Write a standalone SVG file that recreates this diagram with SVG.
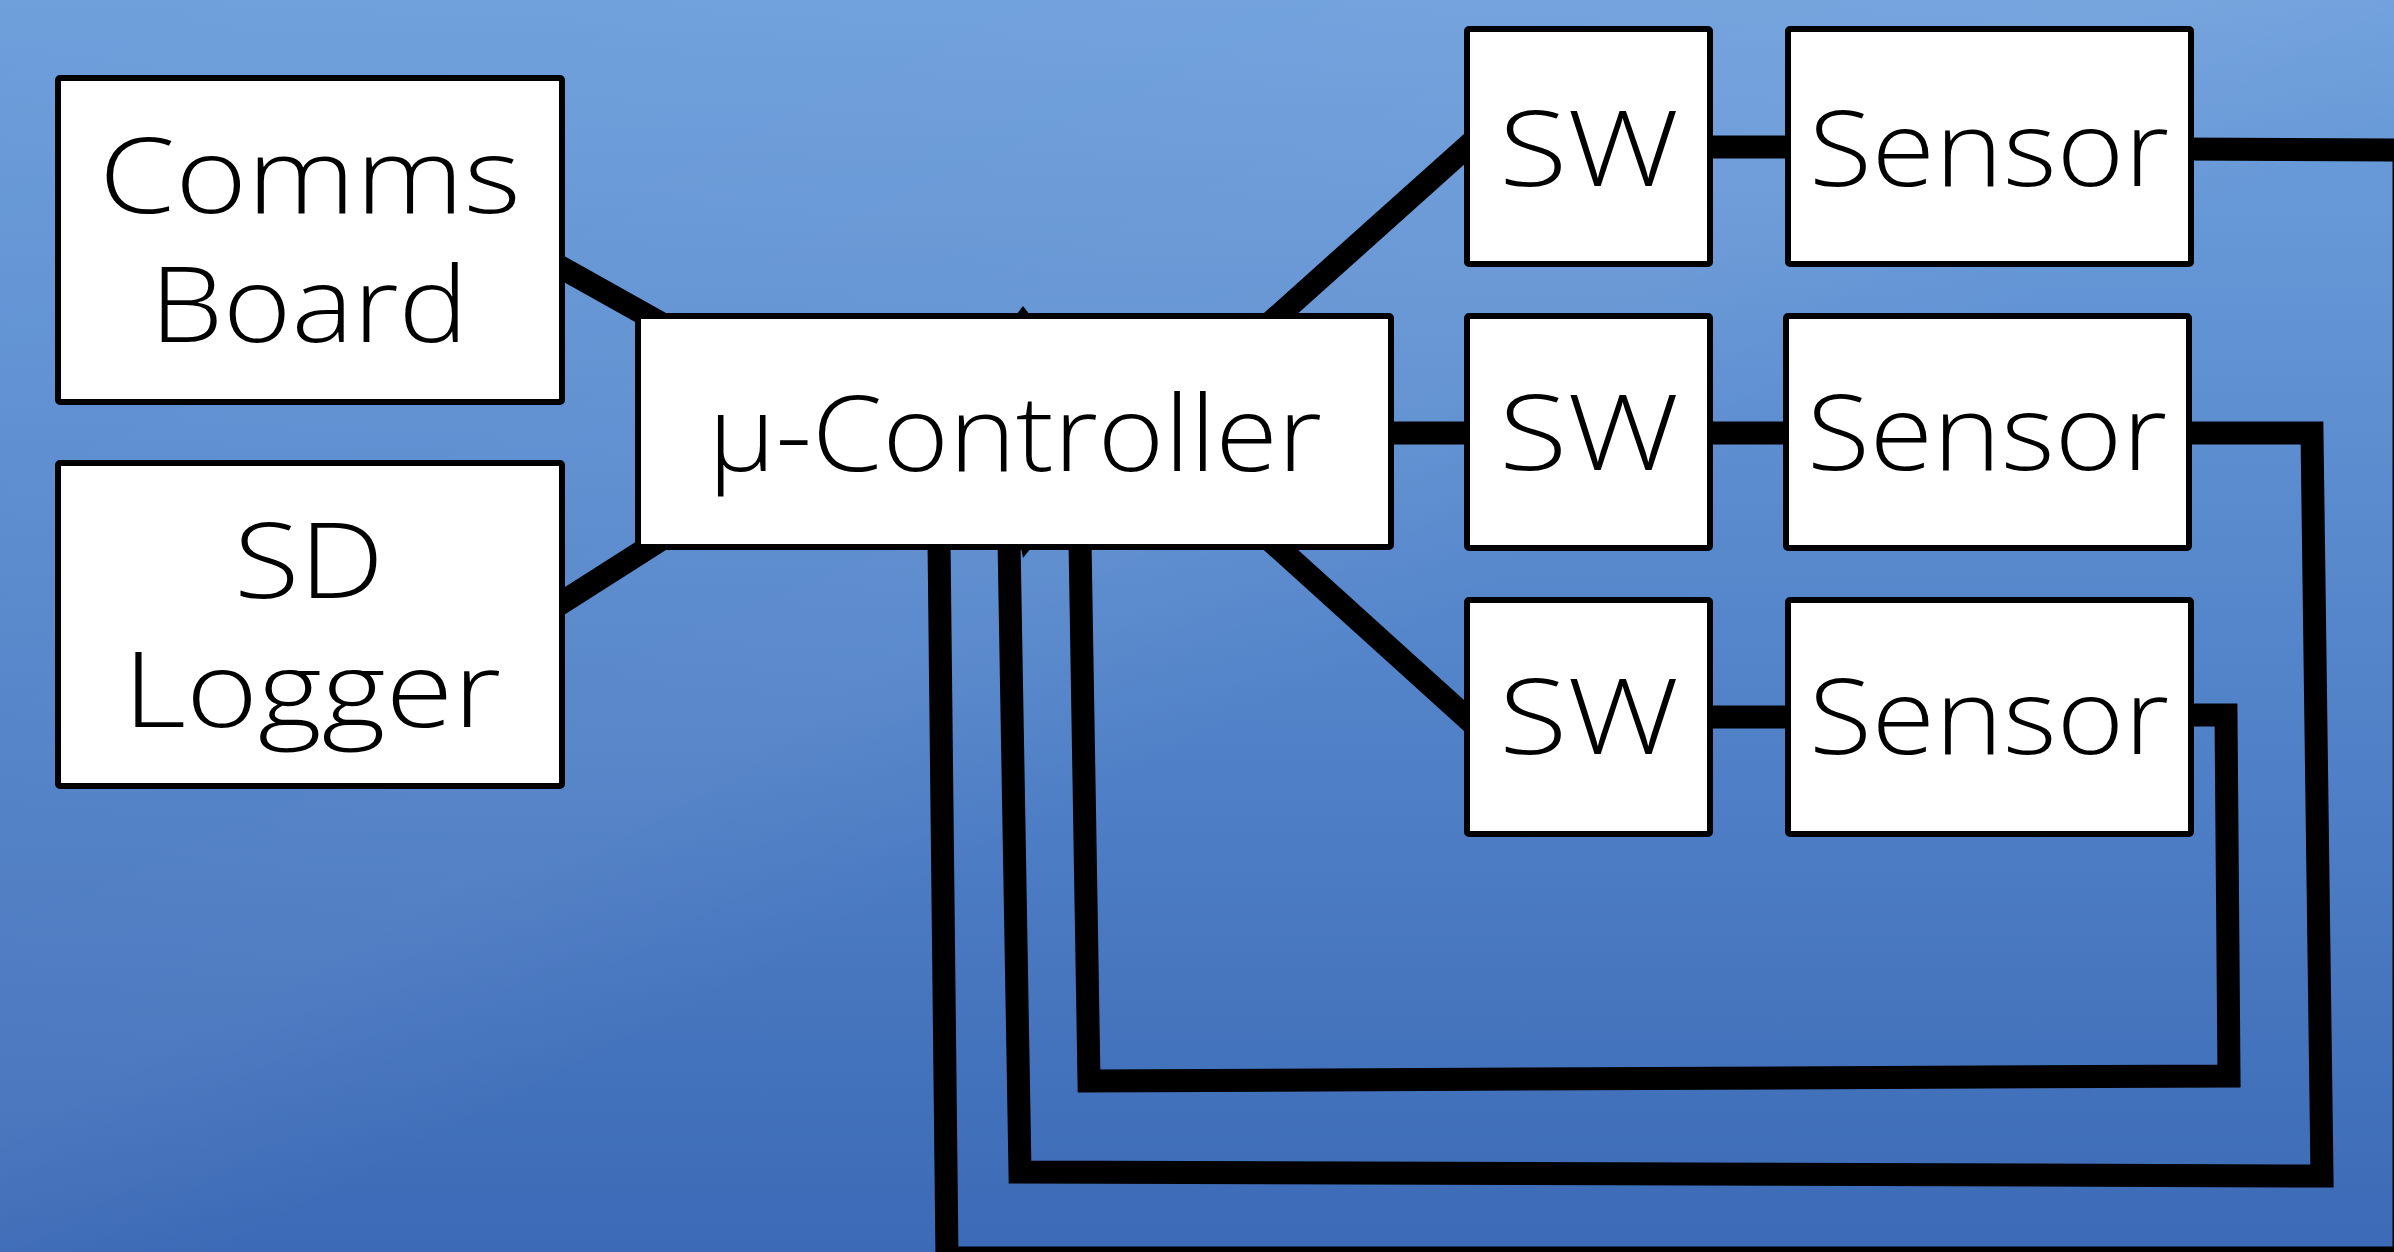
<svg xmlns="http://www.w3.org/2000/svg" width="2394" height="1252" viewBox="0 0 2394 1252">
  <defs>
    <linearGradient id="bg" x1="0" y1="0" x2="0" y2="1">
      <stop offset="0" stop-color="#6fa0dc"/>
      <stop offset="0.5" stop-color="#5586cb"/>
      <stop offset="1" stop-color="#3c6ab6"/>
    </linearGradient>
    <linearGradient id="sheen" x1="0" y1="0" x2="1" y2="1">
      <stop offset="0" stop-color="#ffffff" stop-opacity="0"/>
      <stop offset="0.45" stop-color="#ffffff" stop-opacity="0.05"/>
      <stop offset="0.55" stop-color="#ffffff" stop-opacity="0"/>
      <stop offset="1" stop-color="#ffffff" stop-opacity="0"/>
    </linearGradient>
  </defs>
  <style>
    .box { fill: #ffffff; stroke: #000000; stroke-width: 6; stroke-linejoin: round; }
    .lbl { font-family: "Open Sans", "DejaVu Sans", sans-serif; font-weight: 300; font-size: 106px; fill: #000000; }
    .wire { fill: none; stroke: #000000; stroke-width: 23; stroke-linejoin: miter; stroke-linecap: butt; }
  </style>
  <rect x="0" y="0" width="2394" height="1252" fill="url(#bg)"/>
  <rect x="0" y="0" width="2394" height="1252" fill="url(#sheen)"/>

  <g id="connectors">
    <line class="wire" x1="555" y1="264" x2="680" y2="334"/>
    <line class="wire" x1="555" y1="607" x2="690" y2="521"/>
    <line class="wire" x1="1250" y1="341" x2="1480" y2="135"/>
    <line class="wire" x1="1250" y1="522" x2="1480" y2="730"/>
    <line class="wire" x1="1380" y1="433" x2="1480" y2="433"/>
    <line class="wire" x1="1700" y1="147" x2="1800" y2="147"/>
    <line class="wire" x1="1700" y1="433" x2="1800" y2="433"/>
    <line class="wire" x1="1700" y1="717" x2="1800" y2="717"/>
    <path class="wire" d="M2180,149 L2404,150 L2404,1258 L947,1258 L939,540"/>
    <path class="wire" d="M2180,433 L2312,433 L2322,1176 L1020,1172 L1009,540"/>
    <path class="wire" d="M2180,715 L2226,715 L2229,1076 L1089,1081 L1080,540"/>
    <polygon points="1016,315 1023,306 1030,315" fill="#000"/>
    <polygon points="1021,548 1031,548 1023,558" fill="#000"/>
  </g>

  <g id="comms-board">
    <rect class="box" x="58" y="78" width="504" height="324" rx="2"/>
    <text class="lbl" x="99" y="213" textLength="422" lengthAdjust="spacingAndGlyphs">Comms</text>
    <text class="lbl" x="150" y="342" textLength="318" lengthAdjust="spacingAndGlyphs">Board</text>
  </g>

  <g id="sd-logger">
    <rect class="box" x="58" y="463" width="504" height="323" rx="2"/>
    <text class="lbl" x="234" y="598" textLength="150" lengthAdjust="spacingAndGlyphs">SD</text>
    <text class="lbl" x="123" y="727" textLength="378" lengthAdjust="spacingAndGlyphs">Logger</text>
  </g>

  <g id="micro-controller">
    <rect class="box" x="638" y="316" width="753" height="231" rx="2"/>
    <text class="lbl" x="708" y="471" textLength="614" lengthAdjust="spacingAndGlyphs">µ-Controller</text>
  </g>

  <g id="sw-1">
    <rect class="box" x="1467" y="29" width="243" height="235" rx="2"/>
    <text class="lbl" x="1499" y="186" textLength="180" lengthAdjust="spacingAndGlyphs">SW</text>
  </g>
  <g id="sensor-1">
    <rect class="box" x="1788" y="29" width="403" height="235" rx="2"/>
    <text class="lbl" x="1809" y="186" textLength="360" lengthAdjust="spacingAndGlyphs">Sensor</text>
  </g>

  <g id="sw-2">
    <rect class="box" x="1467" y="316" width="243" height="232" rx="2"/>
    <text class="lbl" x="1499" y="470" textLength="180" lengthAdjust="spacingAndGlyphs">SW</text>
  </g>
  <g id="sensor-2">
    <rect class="box" x="1786" y="316" width="403" height="232" rx="2"/>
    <text class="lbl" x="1807" y="470" textLength="360" lengthAdjust="spacingAndGlyphs">Sensor</text>
  </g>

  <g id="sw-3">
    <rect class="box" x="1467" y="600" width="243" height="234" rx="2"/>
    <text class="lbl" x="1499" y="754" textLength="180" lengthAdjust="spacingAndGlyphs">SW</text>
  </g>
  <g id="sensor-3">
    <rect class="box" x="1788" y="600" width="403" height="234" rx="2"/>
    <text class="lbl" x="1809" y="754" textLength="360" lengthAdjust="spacingAndGlyphs">Sensor</text>
  </g>
</svg>
